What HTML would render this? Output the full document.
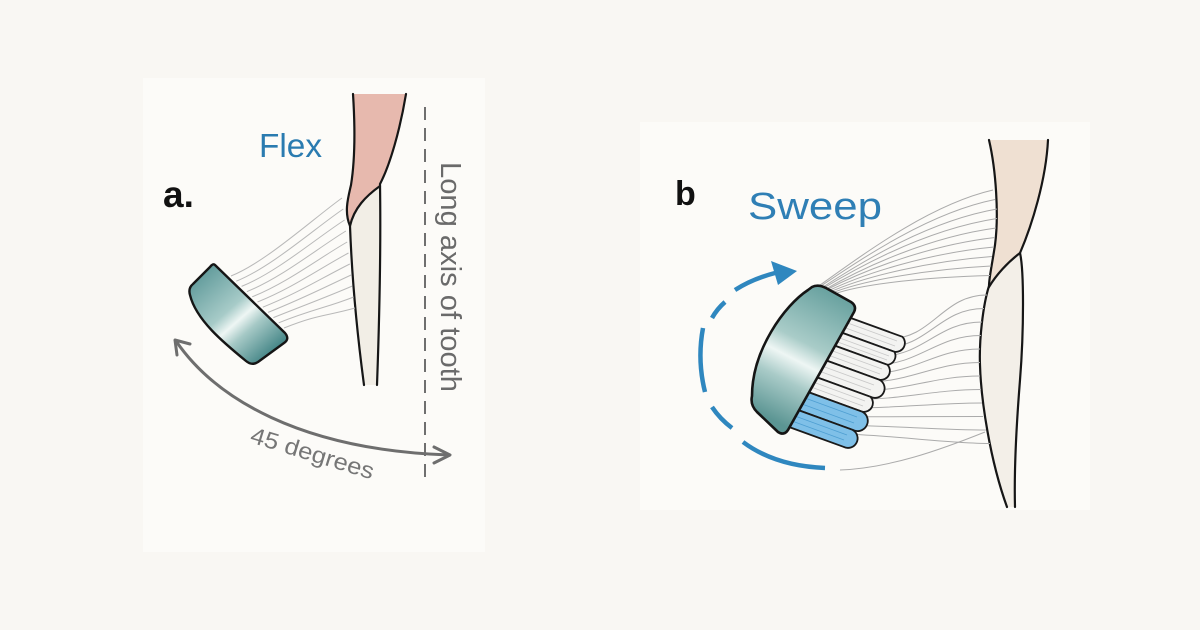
<!DOCTYPE html>
<html><head><meta charset="utf-8"><style>
html,body{margin:0;padding:0;background:#f9f7f3;}
svg{display:block;}
text{font-family:"Liberation Sans",sans-serif;}
</style></head><body>
<svg width="1200" height="630" viewBox="0 0 1200 630" xmlns="http://www.w3.org/2000/svg">
<defs>
<linearGradient id="ga" gradientUnits="userSpaceOnUse" x1="203" y1="276" x2="270" y2="352">
<stop offset="0" stop-color="#679f9f"/><stop offset="0.42" stop-color="#a7cbc8"/><stop offset="0.56" stop-color="#eef6f4"/><stop offset="0.7" stop-color="#a6c9c6"/><stop offset="1" stop-color="#4b8a8b"/>
</linearGradient>
<linearGradient id="gb" gradientUnits="userSpaceOnUse" x1="832" y1="294" x2="768" y2="418">
<stop offset="0" stop-color="#6ba3a1"/><stop offset="0.4" stop-color="#a9ccc8"/><stop offset="0.54" stop-color="#eef6f4"/><stop offset="0.7" stop-color="#a9cbc8"/><stop offset="1" stop-color="#5b9593"/>
</linearGradient>
</defs>
<rect x="0" y="0" width="1200" height="630" fill="#f9f7f3"/>
<rect x="143" y="78" width="342" height="474" fill="#fcfbf8"/>
<rect x="640" y="122" width="450" height="388" fill="#fcfbf8"/>

<!-- Panel a -->
<text x="163" y="207" font-size="37" font-weight="bold" fill="#111">a.</text>
<text x="259" y="157" font-size="33" fill="#2a7bb0" textLength="63" lengthAdjust="spacingAndGlyphs">Flex</text>

<!-- tooth a -->
<path d="M353 94 L406 94 C400 130,390 165,380 186 C366 196,354 208,350 226 C344 212,348 198,351 185 C355 160,355 125,353 94 Z" fill="#e7b9ae"/>
<path d="M379 186 C381 250,379 330,377 385 L364 385 C358 340,352 280,350 226 C354 208,366 196,379 186 Z" fill="#f2eee6"/>
<g fill="none" stroke="#161616" stroke-width="2.2" stroke-linecap="round">
<path d="M353 94 C355 125,355 160,351 185 C348 198,344 212,350 226 C352 280,358 340,364 385"/>
<path d="M406 94 C400 130,390 165,380 184 C381 250,379 330,377 385"/>
<path d="M380 186 C366 196,354 208,350 226"/>
</g>

<!-- bristle lines a -->
<g fill="none" stroke="#b9b9b9" stroke-width="1">
<path d="M231 276 C266 262,314 218,342 198"/>
<path d="M236.3 281.2 C271.3 267.2,315.3 228,343.3 209"/>
<path d="M241.6 286.4 C276.6 272.4,316.6 238,344.6 220"/>
<path d="M246.9 291.6 C281.9 277.6,317.9 248,345.9 231"/>
<path d="M252.2 296.8 C287.2 282.8,319.2 258,347.2 242"/>
<path d="M257.5 302 C292.5 288,320.5 268,348.5 253"/>
<path d="M262.8 307.2 C297.8 293.2,321.8 278,349.8 264"/>
<path d="M268.1 312.4 C303.1 298.4,323.1 288,351.1 275"/>
<path d="M273.4 317.6 C308.4 303.6,324.4 298,352.4 286"/>
<path d="M278.7 322.8 C313.7 308.8,325.7 308,353.7 297"/>
<path d="M284 328 C319 314,327 316,355 308"/>
</g>

<!-- head a -->
<path d="M215 265 L285 333 Q290 339 284 343 L258 362 Q252 366 246 361 C224 343,196 320,190 295 Q188 288,193 284 L210 267 Q213 263,215 265 Z" fill="url(#ga)" stroke="#151515" stroke-width="2.4" stroke-linejoin="round"/>

<!-- dashed axis -->
<line x1="425" y1="107" x2="425" y2="477" stroke="#6f6f6f" stroke-width="2" stroke-dasharray="13 8"/>
<text x="441" y="277" font-size="29" fill="#6a6a6a" text-anchor="middle" transform="rotate(90 441 277)" textLength="230" lengthAdjust="spacingAndGlyphs">Long axis of tooth</text>

<!-- 45 degrees arrow -->
<g fill="none" stroke="#6e6e6e" stroke-width="3" stroke-linecap="round" stroke-linejoin="round">
<path d="M176 341 C215 398,300 450,449 455"/>
<path d="M190 344 L175 340 L177 355"/>
<path d="M434 447 L450 455 L434 463"/>
</g>
<text x="249" y="442" font-size="23" fill="#767676" transform="rotate(17 249 442)" textLength="128" lengthAdjust="spacingAndGlyphs">45 degrees</text>

<!-- Panel b -->
<text x="675" y="205" font-size="34" font-weight="bold" fill="#111">b</text>
<text x="748" y="219" font-size="38" fill="#2f7fb5" textLength="134" lengthAdjust="spacingAndGlyphs">Sweep</text>

<!-- tooth b -->
<path d="M989 140 C996 170,999 215,995 245 C992 265,989 278,989 286 C996 275,1008 262,1020 253 C1032 225,1046 180,1048 140 Z" fill="#efe0d2"/>
<path d="M989 286 C996 275,1008 262,1020 253 C1024 270,1024 330,1020 380 C1016 430,1014 470,1015 507 L1007 507 C990 460,981 400,980 365 C979 340,983 305,989 286 Z" fill="#f3efe8"/>
<g fill="none" stroke="#161616" stroke-width="2.2" stroke-linecap="round">
<path d="M989 140 C996 170,999 215,995 245 C992 265,989 278,989 286 C983 305,979 340,980 365 C981 400,990 460,1007 507"/>
<path d="M1048 140 C1046 180,1032 225,1020 253 C1024 270,1024 330,1020 380 C1016 430,1014 470,1015 507"/>
<path d="M1020 253 C1008 262,996 275,989 287"/>
</g>

<!-- bristle lines b -->
<g fill="none" stroke="#ababab" stroke-width="1">
<path d="M816 288 C865 253,930 204.6,993 190"/>
<path d="M818 288 C865 256.4,930 212.6,995 199.5"/>
<path d="M820 289 C865 259.7,930 220.7,997 209"/>
<path d="M822 289 C865 263,930 228.8,997 218.5"/>
<path d="M824 290 C865 266.4,930 236.9,996 228"/>
<path d="M826 290 C865 269.7,930 244.9,995 237.5"/>
<path d="M828 291 C865 273,930 253,994 247"/>
<path d="M830 292 C865 276.3,930 261.1,992 256.5"/>
<path d="M832 293 C865 279.7,930 269.2,991 266"/>
<path d="M834 294 C865 283,930 277.2,990 275.5"/>
<path d="M888 339 C933 339,942 295,987 295"/>
<path d="M883.5 347.6 C928.5 347.6,939 308.5,984 308.5"/>
<path d="M878.9 356.3 C923.9 356.3,937 322,982 322"/>
<path d="M874.4 364.9 C919.4 364.9,936 335.5,981 335.5"/>
<path d="M869.8 373.6 C914.8 373.6,935 349,980 349"/>
<path d="M865.3 382.2 C910.3 382.2,935 362.5,980 362.5"/>
<path d="M860.7 390.8 C905.7 390.8,935 376,980 376"/>
<path d="M856.2 399.5 C901.2 399.5,936 389.5,981 389.5"/>
<path d="M851.6 408.1 C896.6 408.1,937 403,982 403"/>
<path d="M847.1 416.8 C892.1 416.8,938 416.5,983 416.5"/>
<path d="M842.5 425.4 C887.5 425.4,941 430,986 430"/>
<path d="M838 434 C883 434,945 443.5,990 443.5"/>
<path d="M840 470 C890 468,940 450,985 432"/>
</g>

<!-- tufts -->
<g stroke="#1a1a1a" stroke-width="1.8" stroke-linejoin="round">
<path d="M848 317 L902.5 336.8 A9 9 0 0 1 894.5 351.8 L840 332 Z" fill="#f3f3f1"/>
<path d="M840 332 L894.5 351.8 A9 9 0 0 1 887.5 364.8 L833 345 Z" fill="#f3f3f1"/>
<path d="M833 345 L887.5 364.8 A9 9 0 0 1 879.5 379.8 L825 360 Z" fill="#f3f3f1"/>
<path d="M825 360 L879.5 379.8 A9 9 0 0 1 870.5 396.8 L816 377 Z" fill="#f3f3f1"/>
<path d="M816 377 L870.5 396.8 A9 9 0 0 1 862.5 411.8 L808 392 Z" fill="#f3f3f1"/>
<path d="M808 392 L862.5 411.8 A9 9 0 0 1 852.5 429.8 L798 410 Z" fill="#7fc0e8"/>
<path d="M798 410 L852.5 429.8 A9 9 0 0 1 843.5 446.8 L789 427 Z" fill="#7fc0e8"/>
</g>
<g fill="none" stroke-width="0.9">
<g stroke="#c9c9c9">
<path d="M845 322 L897 341"/><path d="M843 327 L895 346"/>
<path d="M837 337 L889 356"/><path d="M835 341 L887 360"/>
<path d="M830 350 L882 369"/><path d="M828 355 L880 374"/>
<path d="M822 366 L874 385"/><path d="M819 371 L871 390"/>
<path d="M813 382 L865 401"/><path d="M811 387 L863 406"/>
</g>
<g stroke="#4f9fd2">
<path d="M805 398 L857 417"/><path d="M802 404 L854 423"/>
<path d="M795 416 L847 435"/><path d="M792 421 L844 440"/>
</g>
</g>

<!-- head b -->
<path d="M812 287 Q818 284 826 288 L851 302 Q857 306 854 312 L788 430 Q784 436 778 432 L757 412 Q750 405 752 396 C752 350,785 305,808 290 Z" fill="url(#gb)" stroke="#151515" stroke-width="2.6" stroke-linejoin="round"/>

<!-- sweep arrow -->
<g fill="none" stroke="#2f87bf" stroke-width="4.5">
<path d="M825 468 Q775 466 743 442"/>
<path d="M732 428 Q720 419 712 407"/>
<path d="M705 392 Q697 360 703 328"/>
<path d="M712 318 Q717 309 725 302"/>
<path d="M735 290 Q752 279 775 273"/>
</g>
<polygon points="771,261 778,285 797,271" fill="#2f87bf"/>
</svg>
</body></html>
